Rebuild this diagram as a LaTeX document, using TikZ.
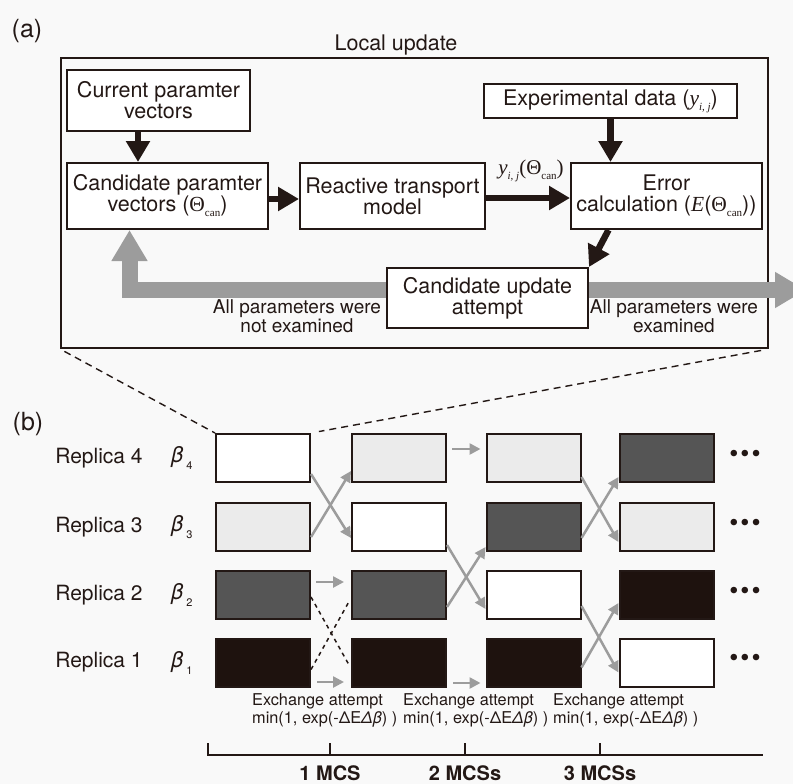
\documentclass[tikz,border=0pt]{standalone}
\usepackage{fontspec}
\setmainfont{TeX Gyre Heros}
\newfontfamily\serf{Liberation Serif}
\usetikzlibrary{arrows.meta,calc}
\definecolor{ink}{HTML}{231815}
\definecolor{bg}{HTML}{F9F9F9}
\definecolor{arr}{HTML}{9C9C9C}
\definecolor{lightf}{HTML}{EBEBEB}
\definecolor{darkf}{HTML}{555555}
\definecolor{blackf}{HTML}{1E120E}
\newcommand\lowsub[1]{\raisebox{-5pt}{\fontsize{11}{11}\selectfont #1}}
\begin{document}
\begin{tikzpicture}[x=1pt,y=-1pt,
  every node/.style={text=ink},
  fbox/.style={draw=ink,line width=2pt,fill=white,inner sep=0pt,align=center,
    font=\fontsize{21.5}{21}\selectfont},
  blk/.style={-{Triangle[length=21pt,width=23pt]},line width=6.5pt,draw=ink},
  garrow/.style={-{Triangle[length=31pt,width=34pt]},line width=16pt,draw=arr},
  thinarrow/.style={-{Triangle[length=11pt,width=11pt]},line width=2.5pt,draw=arr},
  rep/.style={draw=ink,line width=2pt,minimum width=94pt,minimum height=48pt,inner sep=0pt},
  zoomline/.style={draw=ink,line width=1.4pt,dash pattern=on 7pt off 5pt},
  xdash/.style={draw=ink,line width=1.5pt,dash pattern=on 4pt off 4pt},
  lbl/.style={font=\fontsize{19}{19}\selectfont,align=center},
  replbl/.style={font=\fontsize{21}{21}\selectfont},
  exlbl/.style={font=\fontsize{16.3}{18}\selectfont,align=left,anchor=north west,inner sep=0pt},
  mcs/.style={font=\fontsize{20}{20}\selectfont\bfseries,inner sep=1pt},
  dots/.style={font=\fontsize{26}{26}\selectfont},
  axis/.style={draw=ink,line width=2pt}
]
\useasboundingbox (0,0) rectangle (793,784);
\clip (0,0) rectangle (793,784);
\fill[bg] (0,0) rectangle (793,784);

% ---------- (a) ----------
\node[font=\fontsize{25}{25}\selectfont] (la) at (27,31) {(a)};
\node[draw=ink,line width=2pt,minimum width=707pt,minimum height=290pt,inner sep=0pt] (outer) at (414.5,203) {};
\node[font=\fontsize{21.5}{21}\selectfont] (loc) at (396,45) {Local update};

\node[fbox,minimum width=183pt,minimum height=61pt] (cur) at (158.5,100.5) {Current paramter\\vectors};
\node[fbox,minimum width=201pt,minimum height=66pt] (cand) at (167.5,196) {Candidate paramter\\vectors ({\serf Θ}\lowsub{\serf can})};
\node[fbox,minimum width=185pt,minimum height=66pt] (react) at (392.5,196) {Reactive transport\\model};
\node[fbox,minimum width=253pt,minimum height=34pt] (exp) at (610.5,101) {Experimental data ({\serf\itshape y}\lowsub{\serf\itshape i, j})};
\node[fbox,minimum width=191pt,minimum height=66pt] (err) at (666.5,196) {Error\\calculation ({\serf\itshape E}({\serf Θ}\lowsub{\serf can}))};
\node[fbox,minimum width=201pt,minimum height=60pt] (upd) at (487.5,298) {Candidate update\\attempt};

\node[font=\fontsize{21}{21}\selectfont] (ylab) at (531,171) {{\serf\itshape y}\lowsub{\serf\itshape i, j}{\serf(Θ}\lowsub{\serf can}{\serf)}};

\node[lbl] (lno) at (297,316) {All parameters were\\not examined};
\node[lbl] (lyes) at (674,316) {All parameters were\\examined};

\coordinate (rtip) at (806,290);
\draw[garrow] ([yshift=8pt]upd.west) -| ([xshift=-38pt]cand.south);
\draw[garrow] ([yshift=8pt]upd.east) -- (rtip);

\draw[blk] ([xshift=-20.5pt]cur.south) -- ([xshift=-20.5pt]cur.south |- cand.north);
\draw[blk] ([yshift=-3pt]cand.east) -- ([yshift=-3pt]react.west);
\draw[blk] ([yshift=-2pt]react.east) -- ([yshift=-2pt]err.west);
\draw[blk] (exp.south) -- (exp.south |- err.north);
\draw[blk] ([xshift=-58pt]err.south) -- (upd.north east);

% ---------- (b) ----------
\node[font=\fontsize{25}{25}\selectfont] (lb) at (28,424) {(b)};

\foreach \r/\y in {4/458,3/527,2/595,1/662.5}{
  \node[replbl] (rl\r) at (99,\y) {Replica \r};
  \node[anchor=west,inner sep=0pt,font=\fontsize{22}{22}\selectfont] (bl\r) at (171,\y) {\itshape β\kern3pt\raisebox{-7pt}{\upshape\fontsize{11}{11}\selectfont \r}};
  \node[dots] (dt\r) at (745,\y-2) {•\kern2pt•\kern2pt•};
}

\node[rep,fill=white]  (c1r4) at (263,458) {};
\node[rep,fill=lightf] (c1r3) at (263,527) {};
\node[rep,fill=darkf]  (c1r2) at (263,595) {};
\node[rep,fill=blackf] (c1r1) at (263,662.5) {};

\node[rep,fill=lightf] (c2r4) at (399,458) {};
\node[rep,fill=white]  (c2r3) at (399,527) {};
\node[rep,fill=darkf]  (c2r2) at (399,595) {};
\node[rep,fill=blackf] (c2r1) at (399,662.5) {};

\node[rep,fill=lightf] (c3r4) at (533.5,458) {};
\node[rep,fill=darkf]  (c3r3) at (533.5,527) {};
\node[rep,fill=white]  (c3r2) at (533.5,595) {};
\node[rep,fill=blackf] (c3r1) at (533.5,662.5) {};

\node[rep,fill=darkf]  (c4r4) at (666.5,458) {};
\node[rep,fill=lightf] (c4r3) at (666.5,527) {};
\node[rep,fill=blackf] (c4r2) at (666.5,595) {};
\node[rep,fill=white]  (c4r1) at (666.5,662.5) {};

% zoom lines
\draw[zoomline,shorten <=5pt] (outer.south west) -- (c1r4.north west);
\draw[zoomline,shorten <=8pt,shorten >=8pt] (outer.south east) -- (c1r4.north east);

% column 1 -> 2
\draw[thinarrow] ([yshift=-16pt]c1r4.east) -- ([yshift=-11pt]c2r3.west);
\draw[thinarrow] ([yshift=-10pt]c1r3.east) -- ([yshift=-13pt]c2r4.west);
\draw[thinarrow,shorten <=5pt,shorten >=7pt] ([yshift=13pt]c1r2.east) -- ([yshift=13pt]c2r2.west);
\draw[thinarrow,shorten <=6pt,shorten >=7pt] ([yshift=-19.5pt]c1r1.east) -- ([yshift=-19.5pt]c2r1.west);
\draw[xdash,shorten >=2pt] ([yshift=-2pt]c1r2.east) -- ([yshift=-6pt]c2r1.west);
\draw[xdash,shorten >=2pt] ([yshift=-7pt]c1r1.east) -- ([yshift=-3pt]c2r2.west);

% column 2 -> 3
\draw[thinarrow,shorten <=5pt,shorten >=5pt] ([yshift=9pt]c2r4.east) -- ([yshift=9pt]c3r4.west);
\draw[thinarrow] ([yshift=-18pt]c2r3.east) -- ([yshift=-14pt]c3r2.west);
\draw[thinarrow] ([yshift=-12pt]c2r2.east) -- ([yshift=-20pt]c3r3.west);
\draw[thinarrow,shorten <=6pt,shorten >=5pt] ([yshift=-20.5pt]c2r1.east) -- ([yshift=-20.5pt]c3r1.west);

% column 3 -> 4
\draw[thinarrow] ([yshift=-19pt]c3r4.east) -- ([yshift=-15pt]c4r3.west);
\draw[thinarrow] ([yshift=-11pt]c3r3.east) -- ([yshift=-19pt]c4r4.west);
\draw[thinarrow] ([yshift=-11pt]c3r2.east) -- ([yshift=-10pt]c4r1.west);
\draw[thinarrow] ([yshift=-5pt]c3r1.east) -- ([yshift=-8pt]c4r2.west);

% exchange labels
\node[exlbl] (ex1) at (252,693) {Exchange attempt\\min(1, exp(-ΔE\textit{Δβ}) )};
\node[exlbl] (ex2) at (403,693) {Exchange attempt\\min(1, exp(-ΔE\textit{Δβ}) )};
\node[exlbl] (ex3) at (553,693) {Exchange attempt\\min(1, exp(-ΔE\textit{Δβ}) )};

% axis
\coordinate (ax0) at (208,755);
\coordinate (ax1) at (763,755);
\coordinate (t1) at (330,755);
\coordinate (t2) at (465,755);
\coordinate (t3) at (600,755);
\draw[axis] ([yshift=12pt]ax0) -- (ax0) -- (ax1);
\draw[axis] (t1) -- ([yshift=12pt]t1);
\draw[axis] (t2) -- ([yshift=12pt]t2);
\draw[axis] (t3) -- ([yshift=12pt]t3);
\node[mcs] (m1) at (330,773) {1 MCS};
\node[mcs] (m2) at (465,773) {2 MCSs};
\node[mcs] (m3) at (600,773) {3 MCSs};
\end{tikzpicture}
\end{document}
